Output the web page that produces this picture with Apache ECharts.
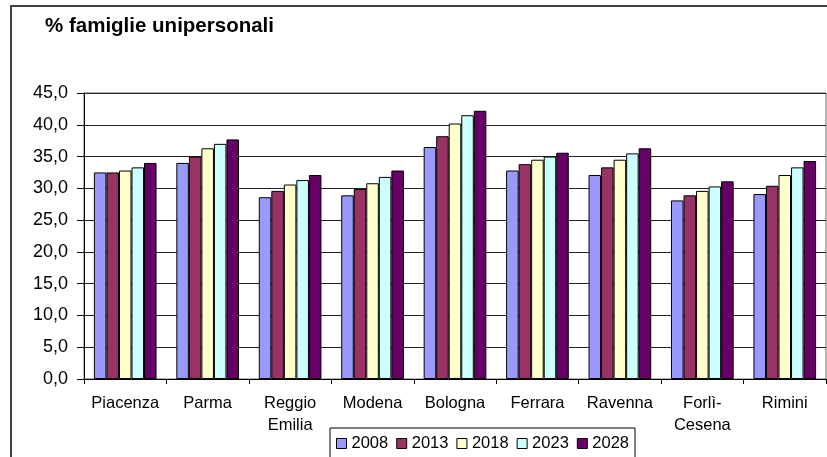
<!DOCTYPE html>
<html>
<head>
<meta charset="utf-8">
<script src="https://cdn.jsdelivr.net/npm/echarts@6/dist/echarts.min.js"></script>
<style>
html,body{margin:0;padding:0;background:#fff;}
#chart{width:827px;height:457px;}
</style>
</head>
<body>
<div id="chart"></div>
<script>
var categories = ['Piacenza', 'Parma', 'Reggio\nEmilia', 'Modena', 'Bologna', 'Ferrara', 'Ravenna', 'Forlì-\nCesena', 'Rimini'];
var years = ['2008', '2013', '2018', '2023', '2028'];
var v2008 = [32.5, 34.0, 28.6, 28.9, 36.5, 32.8, 32.1, 28.1, 29.1];
var v2013 = [32.5, 35.0, 29.6, 29.9, 38.2, 33.8, 33.3, 28.9, 30.4];
var v2018 = [32.8, 36.3, 30.6, 30.8, 40.2, 34.5, 34.5, 29.6, 32.1];
var v2023 = [33.3, 37.0, 31.3, 31.8, 41.5, 35.0, 35.5, 30.3, 33.3];
var v2028 = [34.0, 37.7, 32.1, 32.8, 42.2, 35.6, 36.3, 31.1, 34.3];
var colors = ['#9999FF', '#993366', '#FFFFCC', '#CCFFFF', '#660066'];
var title = '% famiglie unipersonali';

var values = [v2008, v2013, v2018, v2023, v2028];
var font = 'Liberation Sans, Arial, sans-serif';
var chart = echarts.init(document.getElementById('chart'), null, {renderer: 'canvas'});
chart.setOption({
  animation: false,
  textStyle: {fontFamily: font},
  graphic: [{
    type: 'rect', left: 10, top: 5, z: -10,
    shape: {width: 900, height: 600},
    style: {fill: '#fff', stroke: '#404040', lineWidth: 2}
  }],
  title: {
    text: title, left: 40, top: 11,
    textStyle: {fontFamily: font, fontSize: 20.5, fontWeight: 'bold', color: '#000'}
  },
  legend: {
    data: years, left: 330, top: 428,
    orient: 'horizontal',
    icon: 'rect', itemWidth: 10, itemHeight: 10, itemGap: 8,
    padding: [7, 6, 7, 6],
    borderColor: '#000', borderWidth: 1, borderRadius: 0,
    itemStyle: {borderColor: '#000', borderWidth: 1},
    textStyle: {fontFamily: font, fontSize: 16.5, color: '#000', padding: [0, 0, 0, 0]}
  },
  grid: {
    left: 84, right: 1, top: 93, bottom: 78,
    show: true, borderColor: '#666', borderWidth: 1, backgroundColor: 'transparent'
  },
  xAxis: {
    type: 'category', data: categories,
    axisLine: {lineStyle: {color: '#000', width: 1}},
    axisTick: {show: true, length: 5, lineStyle: {color: '#000'}},
    axisLabel: {fontFamily: font, fontSize: 16.5, color: '#000', margin: 13, lineHeight: 22, interval: 0}
  },
  yAxis: {
    type: 'value', min: 0, max: 45, interval: 5,
    axisLine: {show: true, lineStyle: {color: '#000', width: 1}},
    axisTick: {show: true, length: 7, lineStyle: {color: '#000'}},
    splitLine: {show: true, lineStyle: {color: '#222', width: 1}},
    axisLabel: {
      fontFamily: font, fontSize: 18, color: '#000', margin: 16,
      formatter: function (v) { return v.toFixed(1).replace('.', ','); }
    }
  },
  series: years.map(function (y, i) {
    return {
      name: y, type: 'bar', data: values[i],
      barGap: '0%', barCategoryGap: '24%',
      itemStyle: {color: colors[i], borderColor: '#000', borderWidth: 1}
    };
  })
});
</script>
</body>
</html>
